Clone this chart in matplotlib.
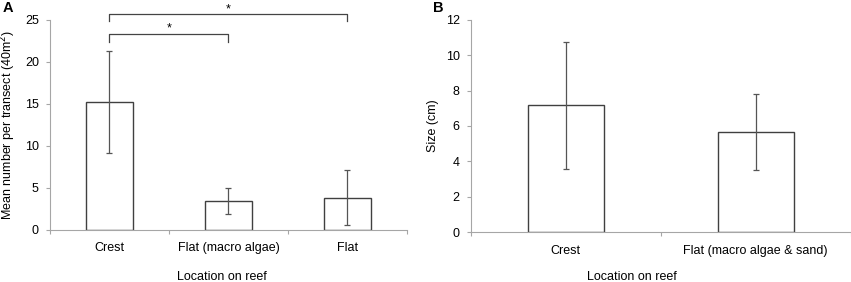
import numpy as np
import matplotlib
matplotlib.use("Agg")
import matplotlib.pyplot as plt

plt.rcParams["font.family"] = ["Liberation Sans", "DejaVu Sans"]
plt.rcParams["font.size"] = 9

# Panel A: mean abundance per transect
a_categories = ["Crest", "Flat (macro algae)", "Flat"]
a_means = [15.2, 3.4, 3.8]
a_errors = [6.1, 1.5, 3.3]

# Panel B: size
b_categories = ["Crest", "Flat (macro algae & sand)"]
b_means = [7.17, 5.68]
b_errors = [3.57, 2.15]

W, H = 851, 282
fig = plt.figure(figsize=(W / 100, H / 100), dpi=100)

spine_color = "#a6a6a6"
bar_edge = "#404040"


def style_axes(ax, n, ymax, step):
    for side in ("top", "right"):
        ax.spines[side].set_visible(False)
    for side in ("left", "bottom"):
        ax.spines[side].set_color(spine_color)
        ax.spines[side].set_linewidth(0.8)
    ax.set_xlim(-0.5, n - 0.5)
    ax.set_ylim(0, ymax)
    ax.set_yticks(np.arange(0, ymax + 0.01, step))
    ax.set_xticks(np.arange(n))
    ax.set_xticks(np.arange(n + 1) - 0.5, minor=True)
    ax.tick_params(axis="x", which="major", length=0, pad=9)
    ax.tick_params(axis="x", which="minor", length=3, color=spine_color, width=0.8)
    ax.tick_params(axis="y", length=3, color=spine_color, width=0.8, pad=5)


def draw_bars(ax, cats, means, errs):
    x = np.arange(len(cats))
    ax.bar(x, means, width=0.4, color="white", edgecolor=bar_edge, linewidth=1.0, zorder=2)
    ax.errorbar(x, means, yerr=errs, fmt="none", ecolor="#555555", elinewidth=0.9,
                capsize=2.5, capthick=0.9, zorder=3)
    ax.set_xticklabels(cats)


# ---- Panel A
axA = fig.add_axes([50 / W, 1 - 229.5 / H, 357 / W, 209.8 / H])
style_axes(axA, 3, 25, 5)
draw_bars(axA, a_categories, a_means, a_errors)
axA.set_ylabel("Mean number per transect (40m$^2$)", labelpad=5)
fig.text(222 / W, 1 - 280 / H, "Location on reef", ha="center", va="baseline")


def bracket(ax, x1, x2, y, drop):
    ax.plot([x1, x1, x2, x2], [y - drop, y, y, y - drop], color="#444444",
            linewidth=0.9, clip_on=False)
    ax.text((x1 + x2) / 2, y + 0.25, "*", ha="center", va="baseline", fontsize=9,
            clip_on=False)


bracket(axA, 0, 1, 23.3, 1.0)
bracket(axA, 0, 2, 25.65, 0.85)
fig.text(3 / W, 1 - 8 / H, "A", fontsize=10.5, fontweight="bold", va="center")

# ---- Panel B
axB = fig.add_axes([470.7 / W, 1 - 232.3 / H, 380 / W, 212.6 / H])
style_axes(axB, 2, 12, 2)
draw_bars(axB, b_categories, b_means, b_errors)
axB.set_ylabel("Size (cm)", labelpad=5)
fig.text(632 / W, 1 - 280.5 / H, "Location on reef", ha="center", va="baseline")
fig.text(433 / W, 1 - 8 / H, "B", fontsize=10.5, fontweight="bold", va="center")

fig.savefig("out.png", dpi=100)
